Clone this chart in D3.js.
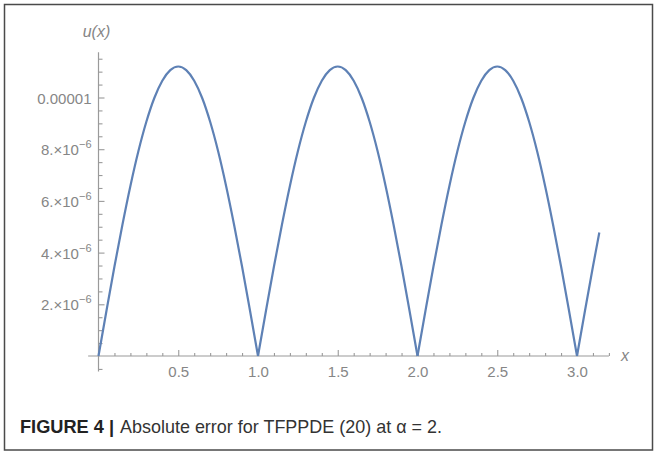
<!DOCTYPE html>
<html>
<head>
<meta charset="utf-8">
<script src="https://cdn.jsdelivr.net/npm/d3@7"></script>
<style>
  body { margin: 0; background: #fff; }
  svg { display: block; }
</style>
</head>
<body>
<script>
var xs = [0, 0.05, 0.1, 0.15, 0.2, 0.25, 0.3, 0.35, 0.4, 0.45, 0.5, 0.55, 0.6, 0.65, 0.7, 0.75, 0.8, 0.85, 0.9, 0.95,
          1, 1.05, 1.1, 1.15, 1.2, 1.25, 1.3, 1.35, 1.4, 1.45, 1.5, 1.55, 1.6, 1.65, 1.7, 1.75, 1.8, 1.85, 1.9, 1.95,
          2, 2.05, 2.1, 2.15, 2.2, 2.25, 2.3, 2.35, 2.4, 2.45, 2.5, 2.55, 2.6, 2.65, 2.7, 2.75, 2.8, 2.85, 2.9, 2.95,
          3, 3.05, 3.1, 3.14];
var us = [0, 1.75, 3.46, 5.08, 6.58, 7.92, 9.06, 9.98, 10.65, 11.06, 11.2, 11.06, 10.65, 9.98, 9.06, 7.92, 6.58, 5.08, 3.46, 1.75,
          0, 1.75, 3.46, 5.08, 6.58, 7.92, 9.06, 9.98, 10.65, 11.06, 11.2, 11.06, 10.65, 9.98, 9.06, 7.92, 6.58, 5.08, 3.46, 1.75,
          0, 1.75, 3.46, 5.08, 6.58, 7.92, 9.06, 9.98, 10.65, 11.06, 11.2, 11.06, 10.65, 9.98, 9.06, 7.92, 6.58, 5.08, 3.46, 1.75,
          0, 1.75, 3.46, 4.78];

var xTicks = [0.5, 1.0, 1.5, 2.0, 2.5, 3.0];
var xTickLabels = ["0.5", "1.0", "1.5", "2.0", "2.5", "3.0"];
var yTicks = [2, 4, 6, 8, 10];
var yTickLabels = [["2.×10", "−6"], ["4.×10", "−6"], ["6.×10", "−6"], ["8.×10", "−6"], ["0.00001", ""]];

var W = 654, H = 453;
var axisGrey = "#9a9a9a", textGrey = "#868686";

var svg = d3.select("body").append("svg")
    .attr("width", W)
    .attr("height", H);

// outer frame
svg.append("rect")
    .attr("x", 4.5).attr("y", 4.5)
    .attr("width", 648).attr("height", 445.5)
    .attr("fill", "#fff")
    .attr("stroke", "#4a4a4a")
    .attr("stroke-width", 1.5);

var x = d3.scaleLinear().domain([0, 3]).range([98.5, 577]);
var y = d3.scaleLinear().domain([0, 10]).range([356, 97.5]);

var plot = svg.append("g");

// axis lines
plot.append("line")
    .attr("x1", x(-0.065)).attr("x2", x(3.2))
    .attr("y1", y(0)).attr("y2", y(0))
    .attr("stroke", axisGrey).attr("stroke-width", 1.2);
plot.append("line")
    .attr("x1", x(0)).attr("x2", x(0))
    .attr("y1", y(-0.6)).attr("y2", y(11.75))
    .attr("stroke", axisGrey).attr("stroke-width", 1.2);

// x ticks (pointing up)
var xMinor = d3.range(1, 33).map(function(i) { return i / 10; })
    .filter(function(v) { return Math.abs(v * 2 - Math.round(v * 2)) > 1e-6; });
var xAxisMinor = d3.axisBottom(x).tickValues(xMinor).tickSizeInner(-3).tickSizeOuter(0).tickFormat("");
var xAxisMajor = d3.axisBottom(x).tickValues(xTicks).tickSizeInner(-6).tickSizeOuter(0).tickPadding(10)
    .tickFormat(function(d, i) { return xTickLabels[i]; });

var gx1 = plot.append("g").attr("transform", "translate(0," + y(0) + ")").call(xAxisMinor);
var gx2 = plot.append("g").attr("transform", "translate(0," + y(0) + ")").call(xAxisMajor);
[gx1, gx2].forEach(function(g) {
    g.select(".domain").remove();
    g.selectAll("line").attr("stroke", axisGrey).attr("stroke-width", 1.1);
});
gx2.selectAll("text")
    .attr("fill", textGrey)
    .style("font-family", "'Liberation Sans', Arial, sans-serif")
    .style("font-size", "15px");

// y ticks (pointing right)
var yMinor = d3.range(-1, 24).map(function(i) { return i / 2; })
    .filter(function(v) { return v % 2 !== 0; });
var yAxisMinor = d3.axisLeft(y).tickValues(yMinor).tickSizeInner(-4).tickSizeOuter(0).tickFormat("");
var yAxisMajor = d3.axisLeft(y).tickValues(yTicks).tickSizeInner(-6).tickSizeOuter(0).tickPadding(8)
    .tickFormat("");

var gy1 = plot.append("g").attr("transform", "translate(" + x(0) + ",0)").call(yAxisMinor);
var gy2 = plot.append("g").attr("transform", "translate(" + x(0) + ",0)").call(yAxisMajor);
[gy1, gy2].forEach(function(g) {
    g.select(".domain").remove();
    g.selectAll("line").attr("stroke", axisGrey).attr("stroke-width", 1.1);
});

// y tick labels with superscript exponents
yTicks.forEach(function(v, i) {
    var lab = yTickLabels[i];
    var t = plot.append("text")
        .attr("x", x(0) - 7)
        .attr("y", y(v) + 6)
        .attr("text-anchor", "end")
        .attr("fill", textGrey)
        .style("font-family", "'Liberation Sans', Arial, sans-serif")
        .style("font-size", "15px");
    t.append("tspan").text(lab[0]);
    if (lab[1]) {
        t.append("tspan")
            .attr("dy", -7)
            .style("font-size", "11px")
            .text(lab[1]);
    }
});

// axis names
plot.append("text")
    .attr("x", x(0) - 2).attr("y", 37)
    .attr("text-anchor", "middle")
    .attr("fill", textGrey)
    .style("font-family", "'Liberation Sans', Arial, sans-serif")
    .style("font-style", "italic")
    .style("font-size", "16px")
    .text("u(x)");

plot.append("text")
    .attr("x", 621).attr("y", y(0) + 5)
    .attr("fill", textGrey)
    .style("font-family", "'Liberation Sans', Arial, sans-serif")
    .style("font-style", "italic")
    .style("font-size", "16px")
    .text("x");

// curve: split into arches at the zeros so the cusps stay sharp
var pts = xs.map(function(d, i) { return [d, us[i]]; });
var arches = [], cur = [];
pts.forEach(function(p, i) {
    cur.push(p);
    if (p[1] === 0 && i > 0) {
        arches.push(cur);
        cur = [p];
    }
});
if (cur.length > 1) arches.push(cur);

var line = d3.line()
    .x(function(d) { return x(d[0]); })
    .y(function(d) { return y(d[1]); })
    .curve(d3.curveMonotoneX);

plot.selectAll("path.curve")
    .data(arches)
    .enter().append("path")
    .attr("class", "curve")
    .attr("fill", "none")
    .attr("stroke", "#5e81b5")
    .attr("stroke-width", 2.2)
    .attr("stroke-linejoin", "round")
    .attr("d", line);

// caption
svg.append("text")
    .attr("x", 20).attr("y", 433)
    .attr("fill", "#222")
    .attr("textLength", 94)
    .attr("lengthAdjust", "spacingAndGlyphs")
    .style("font-family", "'Liberation Sans Narrow', 'Liberation Sans', Arial, sans-serif")
    .style("font-weight", "bold")
    .style("font-size", "18.5px")
    .text("FIGURE 4 |");

svg.append("text")
    .attr("x", 120).attr("y", 433)
    .attr("fill", "#333")
    .attr("textLength", 322)
    .attr("lengthAdjust", "spacingAndGlyphs")
    .style("font-family", "'Liberation Sans Narrow', 'Liberation Sans', Arial, sans-serif")
    .style("font-size", "18.5px")
    .text("Absolute error for TFPPDE (20) at α = 2.");
</script>
</body>
</html>
